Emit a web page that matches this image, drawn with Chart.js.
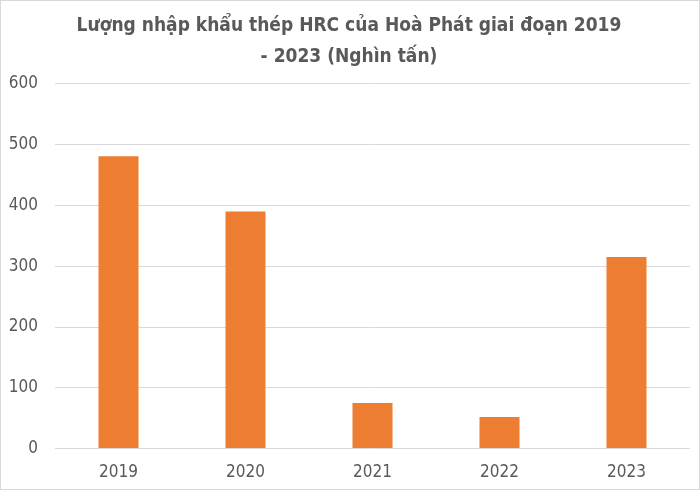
<!DOCTYPE html>
<html>
<head>
<meta charset="utf-8">
<script src="https://cdn.jsdelivr.net/npm/chart.js@4"></script>
<style>
  html, body { margin: 0; padding: 0; background: #fff; }
  #wrap { width: 700px; height: 490px; box-sizing: border-box; border: 1px solid #d9d9d9; position: relative; }
</style>
</head>
<body>
<div id="wrap"><canvas id="chart"></canvas></div>
<script>
const years = ['2019', '2020', '2021', '2022', '2023'];
const importVolume = [481, 390, 75, 52, 315];
const titleLines = ['Lượng nhập khẩu thép HRC của Hoà Phát giai đoạn 2019', '- 2023 (Nghìn tấn)'];

const textColor = '#595959';
const fontFamily = "'DejaVu Sans Condensed', 'Liberation Sans Narrow', 'Open Sans', sans-serif";

const ctx = document.getElementById('chart').getContext('2d');
new Chart(ctx, {
  type: 'bar',
  data: {
    labels: years,
    datasets: [{
      data: importVolume,
      backgroundColor: '#ed7d31',
      barPercentage: 1,
      categoryPercentage: 0.315
    }]
  },
  options: {
    responsive: true,
    maintainAspectRatio: false,
    animation: false,
    layout: { padding: { left: 7, right: 9, top: 0, bottom: 0 } },
    plugins: {
      legend: { display: false },
      tooltip: { enabled: false },
      title: {
        display: true,
        text: titleLines,
        color: textColor,
        font: { family: fontFamily, size: 19, weight: 'bold', lineHeight: 1.6 },
        padding: { top: 10, bottom: 12 }
      }
    },
    scales: {
      x: {
        grid: { display: false },
        border: { display: false },
        ticks: { color: textColor, font: { family: fontFamily, size: 17 }, padding: 6 }
      },
      y: {
        min: 0,
        max: 600,
        afterFit: (scale) => { scale.width = 47; },
        ticks: { stepSize: 100, color: textColor, font: { family: fontFamily, size: 17 }, padding: 17 },
        grid: { color: '#d9d9d9', drawTicks: false },
        border: { display: false }
      }
    }
  }
});
</script>
</body>
</html>
